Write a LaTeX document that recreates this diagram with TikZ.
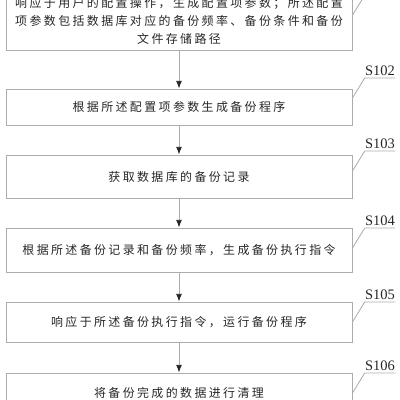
\documentclass[tikz,border=0pt]{standalone}
\usepackage{fontspec}
\setmainfont{Liberation Serif}
\newfontfamily\cjk[LetterSpace=20]{Noto Sans CJK SC}
\usetikzlibrary{arrows.meta}

\tikzset{
  stepbox/.style={draw=gray!65, line width=0.6pt, minimum width=8.65cm,
    inner sep=0pt, align=center, text=black!85,
    font=\cjk\fontsize{8.5}{12.8}\selectfont},
  steplabel/.style={anchor=south, inner xsep=0pt, inner ysep=1.5pt,
    minimum width=0.75cm, text=black!85, font=\fontsize{10.3}{12}\selectfont},
  leader/.style={draw=gray!65, line width=0.6pt},
  flow/.style={draw=gray!65, line width=0.6pt,
    -{Latex[length=5.5pt,width=4.2pt,gray!30!black]}}
}

\begin{document}
\begin{tikzpicture}[x=0.025cm, y=-0.025cm]
    \clip (0,0) rectangle (400,400);
    % steps
    \node[stepbox, minimum height=1.475cm] (s1) at (179,20.5)
      {响应于用户的配置操作，生成配置项参数；所述配置\\
       项参数包括数据库对应的备份频率、备份条件和备份\\
       文件存储路径};
    \node[stepbox, minimum height=0.9cm] (s2) at (179,107) {根据所述配置项参数生成备份程序};
    \node[stepbox, minimum height=1.075cm] (s3) at (179,176.5) {获取数据库的备份记录};
    \node[stepbox, minimum height=1.1cm] (s4) at (179,250) {根据所述备份记录和备份频率，生成备份执行指令};
    \node[stepbox, minimum height=1.0cm] (s5) at (179,322) {响应于所述备份执行指令，运行备份程序};
    \node[stepbox, minimum height=1.0cm] (s6) at (179,393) {将备份完成的数据进行清理};

    % step numbers (the first one lies above the frame)
    \coordinate (l1) at (365,-5);
    \draw[leader] (s1.east |- 0,15) -- (l1) -- ++(30,0);
    \node[steplabel] (l2) at (380,78) {S102};
    \node[steplabel] (l3) at (380,151) {S103};
    \node[steplabel] (l4) at (380,228) {S104};
    \node[steplabel] (l5) at (380,302) {S105};
    \node[steplabel] (l6) at (380,373) {S106};
    \foreach \n/\y in {2/98,3/171,4/248,5/322,6/393}
    \draw[leader] (s\n.east |- 0,\y) -- (l\n.south west) -- (l\n.south east);

    % flow
    \foreach \a/\b in {1/2,2/3,3/4,4/5,5/6}
    \draw[flow] (s\a) -- (s\b);
\end{tikzpicture}
\end{document}
